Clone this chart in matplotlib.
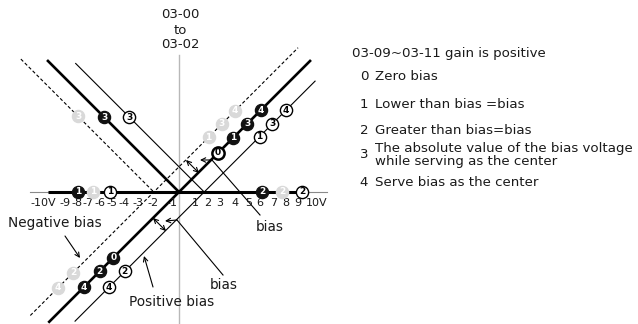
import matplotlib
matplotlib.use("Agg")
import matplotlib.pyplot as plt

W, H = 638, 324
X0, Y0, S = 179.0, 192.0, 12.6   # pixel position of origin, pixels per volt


def P(px, py):
    """pixel (from top-left) -> data coordinates"""
    return ((px - X0) / S, (Y0 - py) / S)


# ---------------- data ----------------
# characteristic lines (volts in, scaled output)
dashed_diag_x = [-11.8, 9.45]
dashed_diag_y = [-9.8, 11.45]
dashed_arm_x = [-12.55, -2.0]
dashed_arm_y = [10.55, 0.0]

thick_diag_x = [-10.3, 10.4]
thick_diag_y = [-10.3, 10.4]
thick_arm_x = [-10.4, 0.0]
thick_arm_y = [10.4, 0.0]

thin_diag_x = [-8.25, 10.8]
thin_diag_y = [-10.25, 8.8]
thin_arm_x = [-8.2, 2.0]
thin_arm_y = [10.2, 0.0]

axis_thick_x = [-10.4, 10.0]

# numbered markers: (label, x, y)
gray_marks = [("3", -8.0, 6.0), ("1", -6.8, 0.0), ("1", 2.35, 4.35),
              ("3", 3.4, 5.4), ("4", 4.45, 6.45), ("2", 8.2, 0.0),
              ("2", -8.4, -6.4), ("4", -9.6, -7.6)]
black_marks = [("3", -5.95, 5.95), ("1", -8.0, 0.0), ("1", 4.3, 4.3),
               ("3", 5.4, 5.4), ("4", 6.5, 6.5), ("2", 6.6, 0.0),
               ("0", -5.2, -5.2), ("2", -6.3, -6.3), ("4", -7.55, -7.55)]
zero_mark = [("0", 3.1, 3.1)]
white_marks = [("3", -3.95, 5.95), ("1", -5.5, 0.0), ("1", 6.4, 4.4),
               ("3", 7.4, 5.4), ("4", 8.5, 6.5), ("2", 9.8, 0.0),
               ("2", -4.3, -6.3), ("4", -5.55, -7.55)]

tick_labels = ["-10V", "-9", "-8", "-7", "-6", "-5", "-4", "-3", "-2", "-1",
               "1", "2", "3", "4", "5", "6", "7", "8", "9", "10V"]
tick_pos = [-10.8, -9.05, -8.1, -7.2, -6.3, -5.3, -4.4, -3.25, -2.1, -0.55,
            1.27, 2.3, 3.25, 4.44, 5.5, 6.4, 7.5, 8.5, 9.4, 10.9]

legend_title = "03-09~03-11 gain is positive"
legend_nums = ["0", "1", "2", "3", "4"]
legend_texts = ["Zero bias", "Lower than bias =bias", "Greater than bias=bias",
                "The absolute value of the bias voltage\nwhile serving as the center",
                "Serve bias as the center"]

# ---------------- figure ----------------
fig = plt.figure(figsize=(W / 100, H / 100), dpi=100)
ax = fig.add_axes([0, 0, 1, 1])
ax.set_xlim((0 - X0) / S, (W - X0) / S)
ax.set_ylim((Y0 - H) / S, Y0 / S)
ax.axis("off")

FONT = "DejaVu Sans"
TXT = "#1a1a1a"

# axes
vx0, vy0 = P(179, 55)
vx1, vy1 = P(179, 324)
ax.plot([vx0, vx1], [vy0, vy1], color="#b8b8b8", lw=1.0, zorder=1)
hx0, _ = P(30, 192)
hx1, _ = P(327, 192)
ax.plot([hx0, hx1], [0, 0], color="#8a8a8a", lw=0.8, zorder=1)
ax.plot(axis_thick_x, [0, 0], color="black", lw=2.2, zorder=2, solid_capstyle="butt")

# characteristic lines
ax.plot(dashed_diag_x, dashed_diag_y, color="black", lw=0.8, ls=(0, (3, 2)), zorder=2)
ax.plot(dashed_arm_x, dashed_arm_y, color="black", lw=0.8, ls=(0, (3, 2)), zorder=2)
ax.plot(thick_diag_x, thick_diag_y, color="black", lw=1.9, zorder=2)
ax.plot(thick_arm_x, thick_arm_y, color="black", lw=1.9, zorder=2)
ax.plot(thin_diag_x, thin_diag_y, color="black", lw=0.8, zorder=2)
ax.plot(thin_arm_x, thin_arm_y, color="black", lw=0.8, zorder=2)

# bias arrows & leaders
ap = dict(arrowstyle="->", lw=0.8, color="black", shrinkA=0, shrinkB=0, mutation_scale=8)
ap2 = dict(arrowstyle="<->", lw=0.8, color="black", shrinkA=0, shrinkB=0, mutation_scale=8)


def arrow(p_from, p_to, props):
    ax.annotate("", xy=P(*p_to), xytext=P(*p_from), arrowprops=props, zorder=3)


def seg(p_from, p_to):
    a, b = P(*p_from), P(*p_to)
    ax.plot([a[0], b[0]], [a[1], b[1]], color="black", lw=0.8, zorder=3)


# upper bias
arrow((186, 160), (199, 173), ap2)
seg((260, 215), (212, 160))
arrow((212, 160), (200, 160), ap)
# lower bias
arrow((153, 218), (166, 231), ap2)
seg((223, 275), (177, 220))
arrow((177, 220), (165, 221), ap)
# negative / positive bias pointers
arrow((65, 236), (80, 258), ap)
arrow((153, 287), (144, 256), ap)

# numbered markers
MS = 8.8


def marks(items, fc, ec, tc, lw=0.9):
    for lab, mx, my in items:
        ax.plot([mx], [my], "o", ms=MS, mfc=fc, mec=ec, mew=lw, zorder=5)
        ax.text(mx, my, lab, ha="center", va="center", fontsize=6.5,
                fontweight="bold", color=tc, family=FONT, zorder=6)


marks(gray_marks, "#d9d9d9", "#d9d9d9", "white")
marks(black_marks, "#111111", "#111111", "white")
marks(white_marks, "white", "black", "black", lw=1.0)
marks(zero_mark, "white", "black", "black", lw=1.8)

# tick labels
for lab, tx in zip(tick_labels, tick_pos):
    ax.text(tx, P(0, 203)[1], lab, ha="center", va="center", fontsize=8,
            family=FONT, color=TXT)

# axis title
for s_, py in [("03-00", 15), ("to", 31), ("03-02", 45)]:
    ax.text(*P(180, py), s_, ha="center", va="center", fontsize=9.5, family=FONT, color=TXT)

# labels
ax.text(*P(8, 223), "Negative bias", ha="left", va="center", fontsize=9.8, family=FONT, color=TXT)
ax.text(*P(129, 302), "Positive bias", ha="left", va="center", fontsize=9.8, family=FONT, color=TXT)
ax.text(*P(256, 227), "bias", ha="left", va="center", fontsize=9.8, family=FONT, color=TXT)
ax.text(*P(210, 285), "bias", ha="left", va="center", fontsize=9.8, family=FONT, color=TXT)

# legend block
ax.text(*P(352, 53), legend_title, ha="left", va="center", fontsize=9.6, family=FONT, color=TXT)
leg_y = [77, 104, 130, 155, 183]
for num, txt, ly in zip(legend_nums, legend_texts, leg_y):
    ax.text(*P(364, ly), num, ha="center", va="center", fontsize=9.6, family=FONT, color=TXT)
    ax.text(*P(375, ly), txt, ha="left", va="center", fontsize=9.6, family=FONT,
            color=TXT, linespacing=1.05)

fig.savefig("out.png", dpi=100)
